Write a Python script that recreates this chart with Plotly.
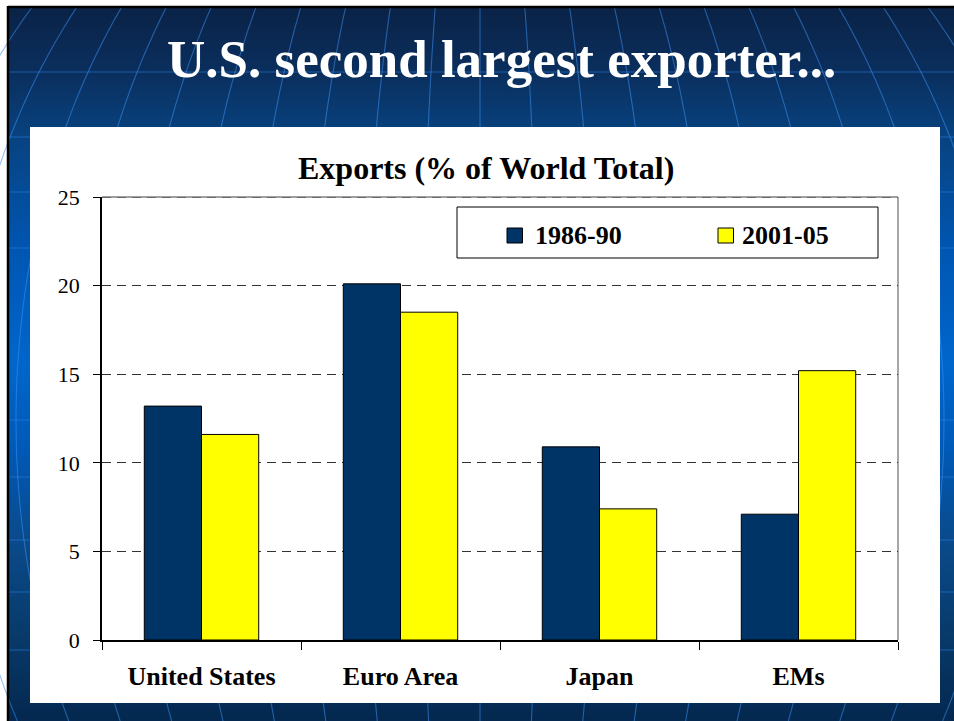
import base64
import numpy as np
import plotly.graph_objects as go

# ---- data -------------------------------------------------------------
regions = ["United States", "Euro Area", "Japan", "EMs"]
series_names = ["1986-90", "2001-05"]
share_1986_90 = [13.2, 20.1, 10.9, 7.1]
share_2001_05 = [11.6, 18.5, 7.4, 15.2]
y_ticks = [0, 5, 10, 15, 20, 25]

slide_title = "U.S. second largest exporter..."
chart_title = "Exports (% of World Total)"

# ---- styling ----------------------------------------------------------
W, H = 954, 721
L, R, T, B = 102, 56, 197, 81          # plot-area margins (px)
PW, PH = W - L - R, H - T - B
NAVY, YELLOW = "#003366", "#ffff00"
SERIF = "Liberation Serif"
GRID_DASH = "9px,6px"


def px(x):
    """page pixel x -> paper x"""
    return (x - L) / PW


def py(y):
    """page pixel y -> paper y"""
    return (H - B - y) / PH


def slide_background():
    """Blue slide backdrop with globe grid lines, border and white chart panel."""
    stops = [(0.00, "#0a2246"), (0.10, "#0a3060"), (0.18, "#08427f"),
             (0.34, "#0056b2"), (0.50, "#0066cc"), (0.62, "#0059b6"),
             (0.75, "#0a4a8a"), (0.88, "#083a6a"), (1.00, "#04284f")]
    s = [f'<svg xmlns="http://www.w3.org/2000/svg" width="{W}" height="{H}" viewBox="0 0 {W} {H}">',
         '<defs><linearGradient id="g" x1="0" y1="0" x2="0" y2="1">']
    s += [f'<stop offset="{o}" stop-color="{c}"/>' for o, c in stops]
    s.append('</linearGradient></defs>')
    s.append(f'<rect width="{W}" height="{H}" fill="#ffffff"/>')
    s.append(f'<rect x="7" y="6" width="{W-7}" height="{H-6}" fill="url(#g)"/>')
    # latitude lines
    for yl in [72, 137, 192, 248, 420, 477, 540, 592, 650]:
        s.append(f'<line x1="9" y1="{yl}" x2="{W}" y2="{yl}" stroke="#2c82e6" '
                 f'stroke-opacity="0.55" stroke-width="1.2"/>')
    # meridians bulging towards the middle of the slide
    yc, rad, cx = 420.0, 650.0, 480.0
    ys = np.linspace(6, H, 60)
    g = np.sqrt(1 - ((ys - yc) / rad) ** 2)
    for k in range(-11, 12):
        xs = cx + k * 58.0 * g
        pts = " ".join(f"{a:.1f},{b:.1f}" for a, b in zip(xs, ys))
        s.append(f'<polyline points="{pts}" fill="none" stroke="#3a8ff0" '
                 f'stroke-opacity="0.55" stroke-width="1.1"/>')
    # black frame on the top and left edges
    s.append(f'<line x1="8" y1="7" x2="{W}" y2="7" stroke="#000" stroke-width="2.5"/>')
    s.append(f'<line x1="8" y1="6" x2="8" y2="{H}" stroke="#000" stroke-width="2.5"/>')
    # white chart panel
    s.append('<rect x="30" y="127" width="910" height="576" fill="#ffffff"/>')
    s.append('</svg>')
    return "data:image/svg+xml;base64," + base64.b64encode("".join(s).encode()).decode()


fig = go.Figure()
for name, vals, col in [(series_names[0], share_1986_90, NAVY),
                        (series_names[1], share_2001_05, YELLOW)]:
    fig.add_trace(go.Bar(x=regions, y=vals, name=name, marker_color=col,
                         marker_line=dict(color="#000000", width=1),
                         showlegend=False, hoverinfo="x+y+name"))

shapes = [
    # plot area border (top and right)
    dict(type="line", xref="paper", yref="paper", x0=0, x1=1, y0=1, y1=1,
         line=dict(color="#a0a0a0", width=2), layer="below"),
    dict(type="line", xref="paper", yref="paper", x0=1, x1=1, y0=0, y1=1,
         line=dict(color="#8a8a8a", width=1.5), layer="below"),
    # dashed gridline along the top of the value range
    dict(type="line", xref="paper", yref="y", x0=0, x1=1, y0=y_ticks[-1], y1=y_ticks[-1],
         line=dict(color="#333333", width=1, dash=GRID_DASH), layer="below"),
    # legend box
    dict(type="rect", xref="paper", yref="paper", x0=px(457), x1=px(878),
         y0=py(258), y1=py(207), line=dict(color="#000000", width=1),
         fillcolor="#ffffff"),
]
annotations = [
    dict(text=f"<b>{slide_title}</b>", xref="paper", yref="paper",
         x=px(501), y=py(59), xanchor="center", yanchor="middle", showarrow=False,
         font=dict(family=SERIF, size=53, color="#ffffff")),
    dict(text=f"<b>{chart_title}</b>", xref="paper", yref="paper",
         x=px(486), y=py(168), xanchor="center", yanchor="middle", showarrow=False,
         font=dict(family=SERIF, size=32, color="#000000")),
]
# legend entries
for name, col, sx, tx in [(series_names[0], NAVY, 507, 533),
                          (series_names[1], YELLOW, 718, 740)]:
    shapes.append(dict(type="rect", xref="paper", yref="paper",
                       x0=px(sx), x1=px(sx + 15.5), y0=py(243), y1=py(228),
                       fillcolor=col, line=dict(color="#000000", width=1)))
    annotations.append(dict(text=f"<b>{name}</b>", xref="paper", yref="paper",
                            x=px(tx), y=py(235.5), xanchor="left", yanchor="middle",
                            showarrow=False,
                            font=dict(family=SERIF, size=26, color="#000000")))

fig.update_layout(
    width=W, height=H,
    margin=dict(l=L, r=R, t=T, b=B, pad=0),
    paper_bgcolor="#ffffff", plot_bgcolor="#ffffff",
    barmode="group", bargap=0.425, bargroupgap=0,
    showlegend=False,
    images=[dict(source=slide_background(), xref="paper", yref="paper",
                 x=px(0), y=py(0), sizex=W / PW, sizey=H / PH,
                 xanchor="left", yanchor="top", sizing="stretch", layer="below")],
    shapes=shapes, annotations=annotations,
    xaxis=dict(type="category", showline=True, linecolor="#000000", linewidth=1.5,
               ticks="outside", tickson="boundaries", ticklen=8, tickcolor="#000000",
               tickwidth=1, showgrid=False, ticklabelstandoff=12,
               tickfont=dict(family=SERIF, size=26, color="#000000", weight="bold")),
    yaxis=dict(range=[0, 25], tickvals=y_ticks, showline=True, linecolor="#000000",
               linewidth=1.5, ticks="outside", ticklen=7, tickcolor="#000000",
               tickwidth=1, zeroline=False, showgrid=True, gridcolor="#333333",
               gridwidth=1, griddash=GRID_DASH, ticklabelstandoff=9,
               tickfont=dict(family=SERIF, size=22, color="#000000")),
)

fig.write_html("out.html")
